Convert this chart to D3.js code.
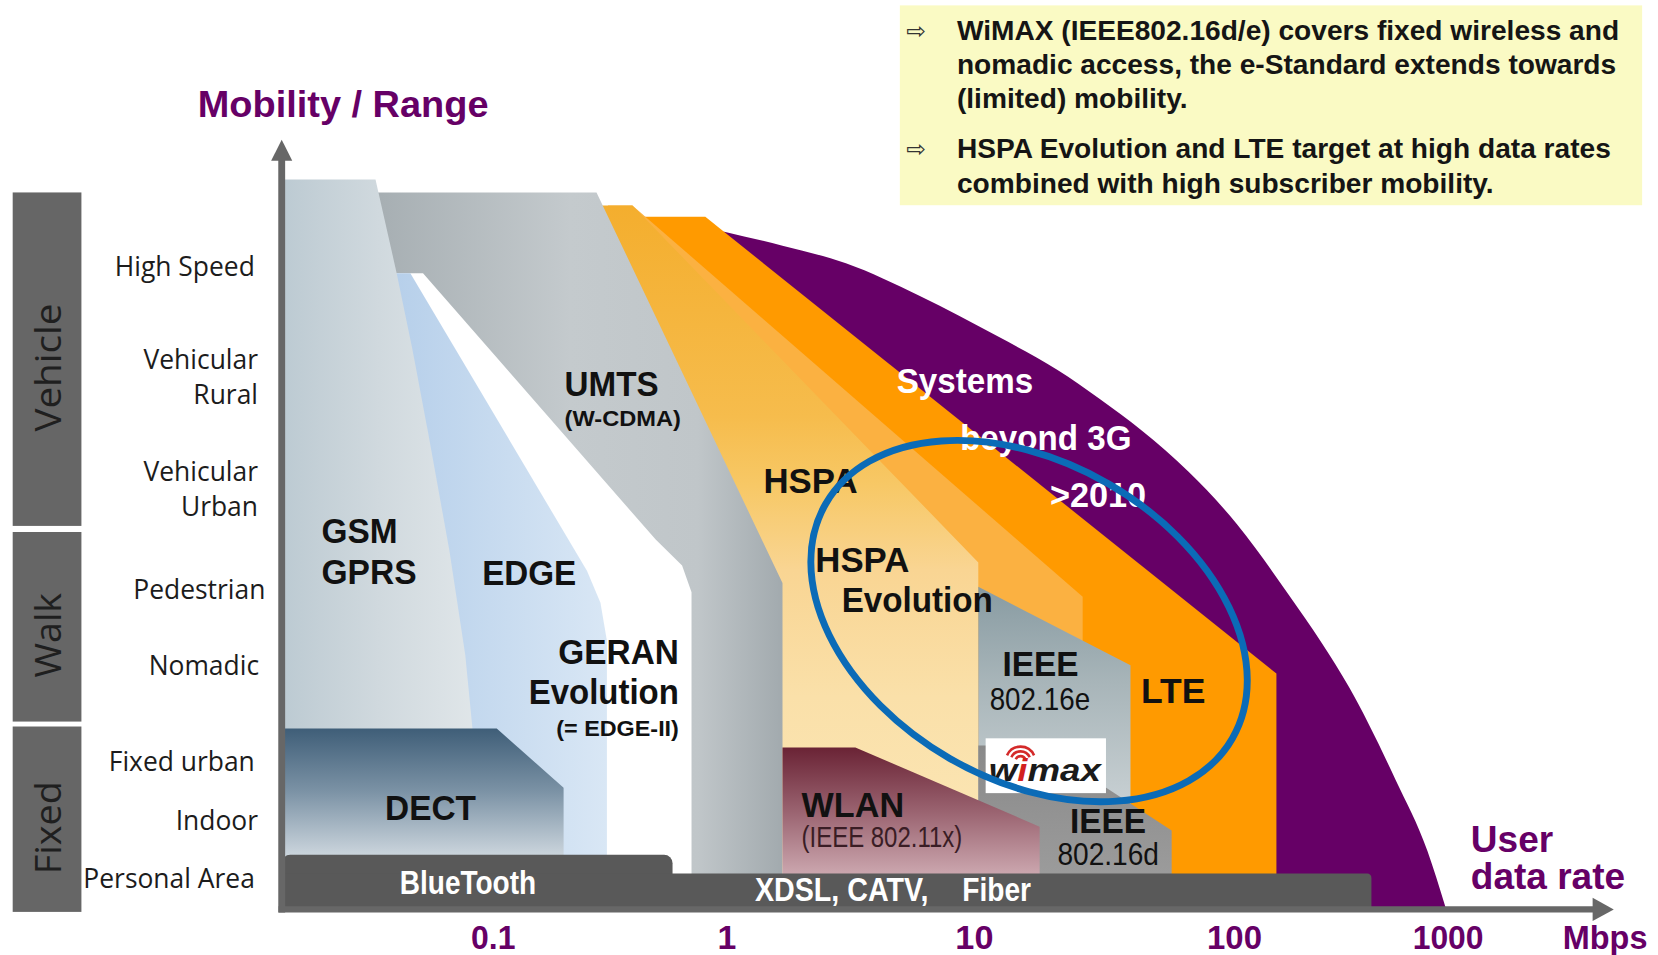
<!DOCTYPE html>
<meta charset="utf-8">
<script src="https://cdn.jsdelivr.net/npm/d3@7"></script>
<style>
body { margin: 0; background: #fff; overflow: hidden; }
svg { display: block; }
text { font-family: "Liberation Sans", Arial, sans-serif; }
.level { font-family: "Open Sans", sans-serif; font-size: 25px; fill: #1c1c1c; }
.group { font-family: "Open Sans", sans-serif; font-size: 34px; fill: #1f1f1f; }
.tech { font-weight: bold; font-size: 33px; fill: #111; }
.sub { font-weight: bold; font-size: 21px; fill: #111; }
.num { font-size: 30px; fill: #111; }
.wlan { font-size: 28px; fill: #3a1d25; }
.bar { font-weight: bold; font-size: 32px; fill: #fff; }
.white { fill: #fff; }
.note { font-weight: bold; font-size: 26.6px; fill: #151515; }
.purple { font-weight: bold; fill: #660066; }
</style>
<body>
<script>

// ---- data ---------------------------------------------------------------
// x = user data rate in Mbps (log axis), y = mobility / range in % of the axis

var rateTicks = [0.1, 1, 10, 100, 1000]
var rateTickLabels = ["0.1", "1", "10", "100", "1000"]

var levelNames = [["High Speed"], ["Vehicular", "Rural"], ["Vehicular", "Urban"], ["Pedestrian"],
                  ["Nomadic"], ["Fixed urban"], ["Indoor"], ["Personal Area"]]
var levelValues = [84.2, 69.7, 55.0, 41.8, 31.8, 19.2, 11.4, 3.75]

var groupNames = ["Vehicle", "Walk", "Fixed"]
var groupLow = [50.1, 24.4, -0.6]
var groupHigh = [93.9, 49.3, 23.75]

// outlines of the technology areas as [Mbps, mobility]
var gsm = [[0.0125, 95.6], [0.0315, 95.6], [0.0388, 83.3], [0.0453, 73.3], [0.053, 62.2],
           [0.0652, 46.9], [0.0763, 33.1], [0.082, 23.3], [0.085, 0], [0.0125, 0]]
var edge = [[0.0368, 83.3], [0.0444, 83.3], [0.253, 44.2], [0.289, 40.0], [0.308, 35.0],
            [0.308, 0], [0.0763, 0]]
var umts = [[0.0269, 93.9], [0.278, 93.9], [1.685, 42.6], [1.685, 0], [0.709, 0], [0.709, 41.4],
            [0.646, 44.9], [0.498, 48.3], [0.0503, 83.3], [0.0331, 83.3]]
var hspa = [[0.266, 92.2], [0.396, 92.2], [10.4, 45.3], [10.4, 0], [1.53, 0], [1.53, 42.6]]
var hspaEvo = [[0.311, 92.2], [0.396, 92.2], [26.2, 40.8], [26.2, 0], [8.13, 0]]
var lte = [[0.404, 90.7], [0.812, 90.7], [158, 30.7], [158, 0], [23, 0]]
var beyondArc = [[0.979, 88.75], [1.685, 86.9], [3.04, 84.6], [6.05, 80.3], [12.5, 74.9], [20.9, 70.6],
                 [30.4, 66.8], [44.3, 62.6], [66.9, 57.2], [103.5, 50.3], [181, 41.0], [258, 34.7],
                 [346, 28.9], [572, 16.7], [805, 7.4], [978, 0]]
var beyondBack = [[978, 0], [53.4, 0], [0.68, 88.75]]
var ieee16e = [[10.4, 42.1], [40, 31.8], [40, 0], [10.4, 0]]
var ieee16d = [[10.4, 21.25], [18.2, 21.25], [57.6, 10.1], [57.6, 0], [10.4, 0]]
var wlan = [[1.685, 21.0], [3.32, 21.0], [17.9, 10.6], [17.9, 0], [1.685, 0]]
var dect = [[0.0125, 23.5], [0.104, 23.5], [0.201, 15.7], [0.201, 0], [0.0125, 0]]
// fixed lines: [to Mbps, top mobility]
var bluetooth = [0.588, 6.9]
var xdsl = [440, 4.44]
// wimax logo box and the highlight ring
var wimaxBox = [[11.1, 22.2], [32.2, 15.0]]
var ring = [16.3, 37.6]

var noteLines = ["WiMAX (IEEE802.16d/e) covers fixed wireless and",
                 "nomadic access, the e-Standard extends towards",
                 "(limited) mobility.",
                 "HSPA Evolution and LTE target at high data rates",
                 "combined with high subscriber mobility."]

// text, Mbps, mobility, anchor, length, class
var techLabels = [
  ["GSM", 0.0185, 47.8, "start", 72, "tech"],
  ["GPRS", 0.0185, 42.5, "start", 90, "tech"],
  ["EDGE", 0.0901, 42.4, "start", 89, "tech"],
  ["DECT", 0.0346, 11.5, "start", 86, "tech"],
  ["UMTS", 0.203, 67.1, "start", 89, "tech"],
  ["(W-CDMA)", 0.203, 63.2, "start", 110, "sub"],
  ["GERAN", 0.626, 31.9, "end", 114, "tech"],
  ["Evolution", 0.626, 26.7, "end", 142, "tech"],
  ["(= EDGE-II)", 0.626, 22.5, "end", 116, "sub"],
  ["HSPA", 1.411, 54.4, "start", 89, "tech"],
  ["HSPA", 2.286, 44.0, "start", 89, "tech"],
  ["Evolution", 2.923, 38.75, "start", 143, "tech"],
  ["Systems", 4.876, 67.6, "start", 129, "tech white"],
  ["beyond 3G", 8.80, 60.1, "start", 162, "tech white"],
  [">2010", 19.6, 52.6, "start", 91, "tech white"],
  ["IEEE", 12.88, 30.4, "start", 72, "tech"],
  ["802.16e", 11.5, 25.9, "start", 95, "num"],
  ["LTE", 43.9, 26.8, "start", 61, "tech"],
  ["WLAN", 2.012, 11.9, "start", 97, "tech"],
  ["(IEEE 802.11x)", 2.012, 7.9, "start", 152, "wlan"],
  ["IEEE", 23.4, 9.8, "start", 72, "tech"],
  ["802.16d", 20.95, 5.5, "start", 96, "num"],
  ["BlueTooth", 0.04, 1.8, "start", 129, "bar"],
  ["XDSL, CATV,", 1.304, 0.83, "start", 164, "bar"],
  ["Fiber", 8.98, 0.83, "start", 65, "bar"]
]

// ---- layout -------------------------------------------------------------

var xRange = [466, 687, 921, 1167, 1369]
var rateMin = 0.0125, rateMax = 6000

var x = d3.scaleLog().domain(rateTicks).range(xRange)
var y = d3.scaleLinear().domain([0, 100]).range([858, 138])

var svg = d3.select("body").append("svg")
    .attr("width", 1658).attr("height", 955)
    .attr("viewBox", "0 0 1568 903")

var defs = svg.append("defs")
function gradient(id, vertical, stops) {
  var g = defs.append("linearGradient").attr("id", id)
      .attr("x1", 0).attr("y1", 0).attr("x2", vertical ? 0 : 1).attr("y2", vertical ? 1 : 0)
  stops.forEach(function(s) { g.append("stop").attr("offset", s[0]).attr("stop-color", s[1]) })
}
gradient("gGsm", false, [[0, "#bccad2"], [0.5, "#d0d9de"], [1, "#e0e6e9"]])
gradient("gEdge", false, [[0, "#b6cfea"], [1, "#d9e7f5"]])
gradient("gUmts", false, [[0.05, "#a7afb3"], [0.5, "#c4cacd"], [0.8, "#c0c6c9"], [1, "#a2aaae"]])
gradient("gHspa", true, [[0, "#f4ae2e"], [0.3, "#f6bc4c"], [0.4, "#f7c866"], [0.52, "#f9d593"], [0.7, "#fae0a9"], [1, "#fce8b9"]])
gradient("gDect", true, [[0, "#3f5e78"], [0.35, "#7b92a5"], [0.7, "#c9d3db"], [1, "#dde3e8"]])
gradient("gWlan", true, [[0, "#6a2335"], [0.4, "#9a6370"], [0.79, "#cba6ae"], [1, "#d3b2b9"]])
gradient("g16e", true, [[0, "#889ba2"], [0.3, "#a8b5b9"], [0.68, "#c8d0d3"], [1, "#d4dadc"]])
gradient("g16d", true, [[0, "#898989"], [1, "#a0a0a0"]])

var poly = d3.line().x(function(d) { return x(d[0]) }).y(function(d) { return y(d[1]) })
var smooth = d3.line().x(function(d) { return x(d[0]) }).y(function(d) { return y(d[1]) })
    .curve(d3.curveMonotoneX)

function area(pts, fill) {
  return svg.append("path").attr("d", poly(pts) + "Z").attr("fill", fill)
}

// areas, back to front
svg.append("path")
    .attr("d", smooth(beyondArc) + poly(beyondBack).replace(/^M/, "L") + "Z")
    .attr("fill", "#660066")
area(lte, "#ff9a00")
area(hspaEvo, "#fbb141")
area(hspa, "url(#gHspa)")
area(umts, "url(#gUmts)")
area(edge, "url(#gEdge)")
area(gsm, "url(#gGsm)")
area(ieee16e, "url(#g16e)")
area(ieee16d, "url(#g16d)")
area(wlan, "url(#gWlan)")
area(dect, "url(#gDect)")

svg.append("rect")
    .attr("x", x(rateMin)).attr("y", y(bluetooth[1]))
    .attr("width", x(bluetooth[0]) - x(rateMin)).attr("height", y(0) - y(bluetooth[1]) + 3)
    .attr("rx", 8).attr("fill", "#595959")
svg.append("rect")
    .attr("x", x(rateMin)).attr("y", y(xdsl[1]))
    .attr("width", x(xdsl[0]) - x(rateMin)).attr("height", y(0) - y(xdsl[1]) + 3)
    .attr("rx", 4).attr("fill", "#595959")

// axes
var x0 = x(rateMin), y0 = y(0) + 2
svg.append("line").attr("x1", x0).attr("x2", x0).attr("y1", y0 + 3).attr("y2", y(100) + 12)
    .attr("stroke", "#676767").attr("stroke-width", 6.5)
svg.append("path")
    .attr("d", "M" + (x0 - 10) + "," + (y(100) + 14) + "L" + x0 + "," + (y(100) - 6) + "L" + (x0 + 10) + "," + (y(100) + 14) + "Z")
    .attr("fill", "#676767")
svg.append("line").attr("x1", x0 - 3).attr("x2", x(rateMax) - 18).attr("y1", y0).attr("y2", y0)
    .attr("stroke", "#676767").attr("stroke-width", 6)
svg.append("path")
    .attr("d", "M" + (x(rateMax) - 20) + "," + (y0 - 11) + "L" + x(rateMax) + "," + y0 + "L" + (x(rateMax) - 20) + "," + (y0 + 11) + "Z")
    .attr("fill", "#676767")

var tickLen = [42, null, 36, 52, 67]
svg.append("g").attr("transform", "translate(0,875)")
    .call(d3.axisBottom(x).tickValues(rateTicks).tickSize(0).tickPadding(0)
          .tickFormat(function(d, i) { return rateTickLabels[i] }))
    .call(function(g) { g.select(".domain").remove() })
    .selectAll("text")
      .attr("class", "purple")
      .style("font-size", "32px")
      .style("font-family", '"Liberation Sans", Arial, sans-serif')
      .each(function(d, i) {
        if (tickLen[i]) d3.select(this).attr("textLength", tickLen[i]).attr("lengthAdjust", "spacingAndGlyphs")
      })

svg.append("text").attr("class", "purple").attr("x", 1558).attr("y", 897)
    .attr("text-anchor", "end").style("font-size", "31px")
    .attr("textLength", 80).attr("lengthAdjust", "spacingAndGlyphs").text("Mbps")
svg.append("text").attr("class", "purple").attr("x", 1391).attr("y", 806)
    .style("font-size", "35px").text("User")
svg.append("text").attr("class", "purple").attr("x", 1391).attr("y", 841)
    .style("font-size", "35px").text("data rate")
svg.append("text").attr("class", "purple").attr("x", 187).attr("y", 111)
    .style("font-size", "34.5px").attr("textLength", 275).attr("lengthAdjust", "spacingAndGlyphs")
    .text("Mobility / Range")

// mobility levels
var levelShift = [-3, 0, 0, 7, 1, -3, 0, -3]
levelNames.forEach(function(lines, i) {
  var t = svg.append("text").attr("class", "level").attr("text-anchor", "end")
  lines.forEach(function(s, j) {
    t.append("tspan").attr("x", 244 + levelShift[i])
        .attr("y", y(levelValues[i]) + (j - (lines.length - 1) / 2) * 33)
        .attr("dy", "0.36em").text(s)
  })
})

// mobility groups
var groupLen = [121, 80, 88]
groupNames.forEach(function(name, i) {
  var top = y(groupHigh[i]), bottom = y(groupLow[i])
  svg.append("rect").attr("x", 12).attr("y", top).attr("width", 65).attr("height", bottom - top)
      .attr("fill", "#666")
  svg.append("text").attr("class", "group").attr("text-anchor", "middle")
      .attr("transform", "translate(58," + ((top + bottom) / 2 + 8) + ") rotate(-90)")
      .attr("textLength", groupLen[i]).attr("lengthAdjust", "spacingAndGlyphs")
      .text(name)
})

// technology labels
techLabels.forEach(function(l) {
  svg.append("text").attr("class", l[5])
      .attr("x", x(l[1])).attr("y", y(l[2]))
      .attr("text-anchor", l[3])
      .attr("textLength", l[4]).attr("lengthAdjust", "spacingAndGlyphs")
      .text(l[0])
})

// wimax logo
var lx = x(wimaxBox[0][0]), rx = x(wimaxBox[1][0])
var ty = y(wimaxBox[0][1]), by = y(wimaxBox[1][1])
svg.append("rect").attr("x", lx).attr("y", ty).attr("width", rx - lx).attr("height", by - ty)
    .attr("fill", "#fff")
var waves = svg.append("g").attr("transform", "translate(" + (lx + 33) + "," + (by - 30) + ")")
;[5, 9.5, 14].forEach(function(r) {
  waves.append("path")
      .attr("d", d3.arc()({ innerRadius: r - 1.2, outerRadius: r + 1.2, startAngle: -1.15, endAngle: 1.15 }))
      .attr("fill", "#d42a2a")
})
var logo = svg.append("text").attr("x", lx + 3).attr("y", by - 11)
    .style("font-size", "30px").style("font-weight", "bold").style("font-style", "italic")
    .attr("textLength", 106).attr("lengthAdjust", "spacingAndGlyphs")
logo.append("tspan").attr("fill", "#1a1a1a").text("w")
logo.append("tspan").attr("fill", "#d21f1f").text("i")
logo.append("tspan").attr("fill", "#1a1a1a").text("max")

// highlight ring
svg.append("ellipse")
    .attr("transform", "translate(" + x(ring[0]) + "," + y(ring[1]) + ") rotate(30)")
    .attr("rx", 222).attr("ry", 150)
    .attr("fill", "none").attr("stroke", "#0b6bb7").attr("stroke-width", 6.5)

// note box
svg.append("rect").attr("x", 851).attr("y", 5).attr("width", 702).attr("height", 189)
    .attr("fill", "#fafac4")
var noteY = [38, 70, 102, 149, 182]
noteLines.forEach(function(s, i) {
  svg.append("text").attr("class", "note").attr("x", 905).attr("y", noteY[i]).text(s)
})
;[0, 3].forEach(function(i) {
  svg.append("text").attr("x", 857).attr("y", noteY[i] - 1)
      .style("font-family", '"DejaVu Sans", sans-serif').style("font-size", "22px")
      .attr("fill", "#333").text("\u21e8")
})

</script>
</body>
